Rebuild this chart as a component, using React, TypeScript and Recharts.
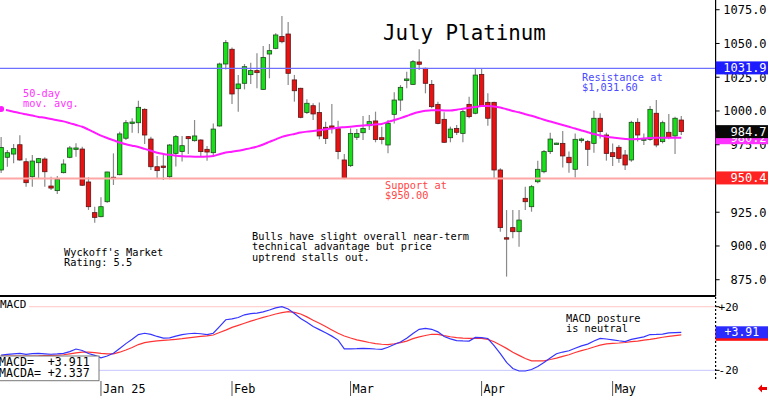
import React from 'react';
import { ComposedChart, Bar, Line, XAxis, YAxis, ReferenceLine } from 'recharts';

// ---------- data ----------
const opens = [956.3,965.7,968.1,975.0,962.4,951.3,961.7,964.4,944.4,941.0,
954.3,965.7,971.6,971.8,947.4,924.7,921.7,932.8,950.9,952.8,
979.8,991.3,991.3,1001.2,979.2,958.7,959.2,951.3,968.6,970.0,
981.0,978.0,978.5,971.6,969.1,988.9,1034.8,1045.7,1016.5,1020.5,
1026.9,1029.9,1016.0,1042.2,1046.4,1055.1,1057.0,1023.0,1016.8,998.8,
1003.9,998.8,987.9,988.9,986.9,963.7,959.5,980.5,983.9,989.1,
992.6,980.2,974.8,997.5,1008.1,1022.5,1019.7,1036.3,1031.6,1019.7,
1004.9,993.8,980.2,987.1,983.4,1004.9,998.3,1027.1,1006.4,1006.4,
956.3,906.1,913.6,910.6,935.3,929.1,947.6,955.0,969.9,975.8,
976.0,965.7,956.8,978.7,977.3,976.0,994.6,982.2,969.1,973.1,
967.4,963.7,991.6,978.8,979.0,998.3,977.3,984.2,981.5,993.3];
const highs = [980.7,971.1,975.5,982.0,964.9,967.4,965.2,965.7,951.3,951.8,
964.2,974.1,976.1,973.5,950.9,929.1,936.1,955.0,968.6,984.7,
993.3,994.6,1007.6,1002.0,980.9,966.6,968.1,975.5,982.2,981.5,
981.5,993.3,979.0,974.1,990.8,1035.8,1052.6,1047.1,1026.7,1034.8,
1035.8,1042.7,1048.1,1049.6,1057.5,1070.4,1065.9,1026.7,1017.2,1008.6,
1005.7,1006.2,992.1,1005.2,992.8,968.1,987.1,986.6,996.3,997.0,
999.5,988.4,993.3,1013.8,1019.2,1029.1,1037.8,1045.7,1032.1,1023.0,
1006.9,999.0,988.4,989.6,1000.7,1010.6,1031.1,1031.1,1013.1,1006.9,
957.5,926.6,926.6,926.6,943.9,945.2,963.2,971.1,983.9,976.5,
985.2,969.9,983.4,980.2,978.5,1000.2,998.3,983.9,976.0,974.8,
971.1,992.8,994.6,983.4,1003.7,1008.1,992.8,997.8,995.8,996.3];
const lows = [954.0,958.7,961.2,963.2,943.9,943.9,950.1,943.9,941.5,938.5,
953.8,964.9,966.1,944.4,926.7,917.2,921.2,932.1,945.2,952.4,
978.5,983.9,983.5,975.5,956.3,950.1,948.9,949.4,958.8,962.5,
968.1,977.3,966.2,963.2,966.2,988.4,1030.8,1005.2,999.5,1016.0,
1020.0,1016.8,1015.5,1024.2,1045.7,1050.1,1019.2,1006.9,994.6,997.8,
993.3,979.0,975.5,983.4,964.2,949.4,958.5,978.5,978.5,985.9,
976.8,975.3,968.6,990.8,1000.0,1016.8,1019.2,1030.4,1013.1,1002.0,
990.1,976.3,976.8,982.2,976.8,994.6,997.5,1003.2,989.1,949.6,
910.6,877.3,905.7,899.5,926.6,925.4,946.4,953.8,968.1,975.5,
958.2,954.3,950.8,976.5,959.2,969.1,979.7,963.2,959.2,961.7,
956.3,962.4,977.3,974.8,978.0,973.1,976.0,979.0,968.1,982.2];
const closes = [973.0,969.1,972.1,963.7,946.9,962.9,964.7,955.0,942.9,949.4,
960.7,972.6,972.6,945.0,929.1,921.2,929.1,954.8,949.9,983.0,
991.3,991.8,1002.7,982.2,958.7,955.8,958.5,974.8,981.0,974.3,
979.5,981.5,969.9,969.6,986.6,1034.8,1050.6,1012.6,1020.0,1032.8,
1029.9,1028.4,1039.7,1044.7,1056.3,1051.3,1027.9,1015.0,995.3,1005.7,
997.8,981.5,979.7,987.4,969.9,950.1,983.4,983.4,987.1,992.1,
978.8,978.8,990.8,1008.1,1017.5,1023.7,1036.5,1034.6,1020.5,1003.2,
990.8,976.8,986.6,984.2,999.5,995.8,1026.6,1003.9,994.6,956.3,
913.6,905.7,910.6,919.2,932.8,943.9,956.8,969.9,979.2,976.2,
966.7,961.7,979.0,979.2,971.6,994.6,984.7,968.6,966.2,964.9,
960.0,991.6,982.2,979.3,1001.2,974.8,991.3,980.5,994.6,984.7];
const ma50 = [1001.4,1000.5,999.5,998.4,997.5,996.6,995.6,995.0,994.0,993.2,
992.3,991.0,989.6,988.3,986.2,984.0,981.8,980.0,978.3,976.6,
975.3,974.3,973.3,971.9,970.5,969.1,968.2,967.5,966.9,966.5,
966.3,966.1,966.1,966.3,966.7,968.0,969.2,969.8,970.5,971.5,
972.5,973.6,975.2,977.1,979.0,980.8,982.0,983.0,984.0,984.7,
985.2,985.7,986.4,987.0,987.6,988.0,988.4,988.8,989.2,989.6,
990.0,990.4,991.8,993.3,994.7,996.3,998.0,999.2,1000.1,1000.6,
1000.6,1000.4,1000.3,1000.9,1001.6,1002.3,1003.0,1003.6,1003.7,1003.4,
1002.6,1001.3,1000.0,999.0,997.6,996.5,995.0,993.5,992.2,990.9,
989.6,988.3,987.0,985.6,984.3,982.9,981.8,981.0,980.3,979.8,
979.3,979.0,979.2,979.6,979.9,980.1,980.2,980.2,980.2,980.2];
const macdLine = [-10.4,-10.0,-9.6,-9.3,-9.9,-9.5,-9.3,-9.6,-9.9,-9.7,
-9.3,-8.2,-6.6,-7.5,-9.4,-10.6,-12.1,-11.0,-9.3,-6.3,
-3.2,-0.5,2.5,3.3,2.6,1.3,0.3,0.4,1.5,2.5,
3.0,3.3,3.0,2.5,3.3,7.5,11.8,12.3,13.2,14.9,
15.6,16.0,16.8,17.9,19.3,20.0,18.6,15.7,12.6,10.2,
7.6,5.6,3.6,1.5,-1.0,-6.5,-6.5,-6.4,-6.2,-6.3,
-6.6,-6.8,-5.5,-3.8,-2.2,0.2,3.2,5.8,6.4,5.8,
4.2,1.3,-0.2,-1.3,-1.5,-1.6,0.7,0.6,0.0,-4.5,
-9.5,-15.0,-18.8,-20.4,-20.4,-19.5,-17.6,-15.0,-12.2,-9.6,
-8.5,-7.7,-6.1,-4.6,-3.5,-1.6,0.1,-0.3,-0.8,-1.4,
-1.9,-0.5,0.3,1.0,2.5,2.6,2.8,3.5,3.7,3.9];
const macdAvg = [-11.0,-11.0,-11.0,-11.0,-11.0,-11.0,-10.9,-10.7,-10.6,-10.5,
-10.2,-9.6,-9.0,-8.6,-8.6,-8.9,-9.3,-9.6,-9.6,-8.6,
-7.2,-5.6,-3.8,-2.6,-1.9,-1.5,-1.2,-0.9,-0.5,-0.1,
0.4,0.9,1.3,1.7,2.2,3.8,5.3,7.0,8.3,9.6,
10.9,12.1,13.3,14.3,15.4,16.3,16.9,16.4,15.4,13.6,
11.5,9.6,7.6,5.4,3.3,1.6,0.3,-0.8,-1.6,-2.5,
-3.2,-3.6,-3.8,-3.3,-2.6,-1.6,-0.1,1.0,1.9,2.7,
2.6,1.8,1.1,0.6,0.2,0.1,0.1,0.1,-0.5,-2.0,
-4.1,-6.2,-8.6,-10.6,-12.6,-14.0,-14.1,-14.0,-13.2,-12.3,
-11.2,-10.2,-8.8,-7.6,-6.6,-5.3,-4.2,-3.4,-3.0,-2.8,
-2.5,-2.0,-1.6,-1.0,-0.5,0.1,0.8,1.3,1.8,2.3];

const monthTickIdx = [16, 37, 56, 77, 98];
const monthLabels = ['Jan 25', 'Feb', 'Mar', 'Apr', 'May'];
const priceTicks = [875, 900, 925, 950, 975, 1000, 1025, 1050, 1075];
const macdTicks = [-20, 20];
const resistance = 1031.6;
const support = 950;
// value tags on the right axis: value, text, colour (drawn in this order)
const priceTagValues = [1031.9, 950.4, 980.2, 984.7];
const priceTagTexts = ['1031.9', '950.4', '980.2', '984.7'];
const priceTagColors = ['#1c1cff', '#ff2222', '#ff33ff', '#080808'];
const macdTagValues = [2.337, 3.91];
const macdTagTexts = ['', '+3.91'];
const macdTagColors = ['#ff1010', '#2a2aff'];
const macdReadout = ['MACD=  +3.911', 'MACDA= +2.337'];
const TOTAL_SLOTS = 115;

const mainData = Array.from({ length: TOTAL_SLOTS }, (_, i) =>
  i < opens.length
    ? { i, range: [lows[i], highs[i]], o: opens[i], h: highs[i], l: lows[i], c: closes[i], ma: ma50[i] }
    : { i }
);
const macdData = macdLine.map((m, i) => ({ i, m, a: macdAvg[i] }));

const MONO = '"DejaVu Sans Mono", "Liberation Mono", monospace';

// ---------- shapes ----------
const Candle = (props: any) => {
  const { x, y, width, height, payload } = props;
  if (!payload || payload.o == null || x == null) return null;
  const top = Math.min(y, y + height);
  const bot = Math.max(y, y + height);
  const span = payload.h - payload.l;
  const k = span > 0 ? (bot - top) / span : 0;
  const yOf = (p: number) => top + (payload.h - p) * k;
  const cx = x + width / 2;
  const up = payload.c >= payload.o;
  const bTop = yOf(Math.max(payload.o, payload.c));
  const bBot = yOf(Math.min(payload.o, payload.c));
  const bh = Math.max(bBot - bTop, 1.4);
  return (
    <g>
      <line x1={cx} x2={cx} y1={top} y2={bot} stroke="#8a8a8a" strokeWidth={1.2} />
      <rect x={cx - 2.2} y={bTop} width={4.4} height={bh}
        fill={up ? '#18e018' : '#e81212'} stroke={up ? '#1d4a1d' : '#5a1616'} strokeWidth={0.8} />
    </g>
  );
};

const PriceTick = (props: any) => {
  const { x, y, payload } = props;
  const v = payload.value;
  const t = priceTagValues.indexOf(v);
  if (t >= 0) {
    return (
      <g>
        <rect x={x} y={y - 6.5} width={56} height={13} fill={priceTagColors[t]} />
        <text x={x + 51} y={y} dy={4.3} textAnchor="end" fill="#fff"
          style={{ fontFamily: MONO, fontSize: 12 }}>{priceTagTexts[t]}</text>
      </g>
    );
  }
  return (
    <g>
      <line x1={x} x2={x + 4} y1={y} y2={y} stroke="#000" />
      <text x={x + 51} y={y} dy={4.3} textAnchor="end" fill="#000"
        style={{ fontFamily: MONO, fontSize: 12 }}>{v.toFixed(1)}</text>
    </g>
  );
};

const MacdTick = (props: any) => {
  const { x, y, payload } = props;
  const v = payload.value;
  const t = macdTagValues.indexOf(v);
  if (t >= 0) {
    return (
      <g>
        <rect x={x} y={y - 6} width={56} height={12} fill={macdTagColors[t]} />
        {macdTagTexts[t] ? (
          <text x={x + 9} y={y} dy={4} fill="#fff" style={{ fontFamily: MONO, fontSize: 11.5 }}>{macdTagTexts[t]}</text>
        ) : null}
      </g>
    );
  }
  return (
    <g>
      <line x1={x} x2={x + 4} y1={y} y2={y} stroke="#000" />
      <text x={x + 3} y={y} dy={3.8} textAnchor="start" fill="#000"
        style={{ fontFamily: MONO, fontSize: 11 }}>{(v > 0 ? '+' : '') + v}</text>
    </g>
  );
};

const DateTick = (props: any) => {
  const { x, y, payload } = props;
  const idx = monthTickIdx.indexOf(payload.value);
  if (idx < 0) return null;
  return (
    <g>
      <line x1={x} x2={x} y1={y} y2={y + 15} stroke="#555" strokeWidth={1} />
      <text x={x + 2} y={y + 12} fill="#000" style={{ fontFamily: MONO, fontSize: 11.8 }}>{monthLabels[idx]}</text>
    </g>
  );
};

// ---------- app ----------
export default function App() {
  return (
    <div style={{ position: 'absolute', left: 0, top: 0, width: 768, height: 396, overflow: 'hidden', background: '#fff' }}>
      <div style={{ position: 'absolute', left: -2, top: 0 }}>
        <ComposedChart width={770} height={298} data={mainData} margin={{ top: 0, right: 0, left: 0, bottom: 0 }}>
          <XAxis dataKey="i" type="category" height={2} tick={false} tickLine={false}
            axisLine={{ stroke: '#000', strokeWidth: 2 }} />
          <YAxis orientation="right" width={52.4} domain={[862.95, 1082.2]} ticks={[...priceTicks, ...priceTagValues]}
            type="number" allowDataOverflow tick={<PriceTick />} tickLine={false} tickSize={0} tickMargin={0}
            axisLine={{ stroke: '#000', strokeWidth: 1.2 }} interval={0} />
          <ReferenceLine y={resistance} stroke="#6f6fff" strokeWidth={1.3} />
          <ReferenceLine y={support} stroke="#ffa6a6" strokeWidth={2} />
          <Line dataKey="ma" stroke="#ff1aff" strokeWidth={2} dot={false} type="monotone" isAnimationActive={false} />
          <Bar dataKey="range" shape={Candle} isAnimationActive={false} />
        </ComposedChart>
      </div>
      <div style={{ position: 'absolute', left: -2, top: 297 }}>
        <ComposedChart width={770} height={99} data={macdData} margin={{ top: 0, right: 0, left: 0, bottom: 0 }}>
          <XAxis dataKey="i" type="number" domain={[-0.5, 114.5]} ticks={monthTickIdx} interval={0}
            allowDataOverflow height={15} tick={<DateTick />} tickLine={false} tickSize={0} tickMargin={0} axisLine={false} />
          <YAxis orientation="right" width={52.4} domain={[-26.7, 26.1]} ticks={[...macdTicks, ...macdTagValues]} type="number"
            allowDataOverflow tick={<MacdTick />} tickLine={false} tickSize={0} tickMargin={0} interval={0}
            axisLine={{ stroke: '#000', strokeWidth: 1.2, strokeDasharray: '2 2' }} />
          <ReferenceLine y={20} stroke="#ffc6c6" strokeWidth={1} />
          <ReferenceLine y={-20} stroke="#c6c6ff" strokeWidth={1} />
          <Line dataKey="a" stroke="#ff3535" strokeWidth={1.2} dot={false} type="linear" isAnimationActive={false} />
          <Line dataKey="m" stroke="#3535ff" strokeWidth={1.2} dot={false} type="linear" isAnimationActive={false} />
        </ComposedChart>
      </div>
      <svg width={768} height={396} style={{ position: 'absolute', left: 0, top: 0, pointerEvents: 'none' }}>
        <g style={{ fontFamily: MONO }}>
          <text x={383} y={39.5} fontSize={20.8} fill="#000">July Platinum</text>
          <text x={23} y={96.5} fontSize={10.3} fill="#ff33ff">50-day</text>
          <text x={23} y={107} fontSize={10.3} fill="#ff33ff">mov. avg.</text>
          <text x={582} y={80.7} fontSize={10.3} fill="#4a4aff">Resistance at</text>
          <text x={582} y={91} fontSize={10.3} fill="#4a4aff">$1,031.60</text>
          <text x={385} y={188.7} fontSize={10.3} fill="#ff4646">Support at</text>
          <text x={385} y={198.8} fontSize={10.3} fill="#ff4646">$950.00</text>
          <text x={64} y={255.6} fontSize={10.3} fill="#000">Wyckoff's Market</text>
          <text x={64} y={265.8} fontSize={10.3} fill="#000">Rating: 5.5</text>
          <text x={252} y={240} fontSize={10.3} fill="#000">Bulls have slight overall near-term</text>
          <text x={252} y={250.3} fontSize={10.3} fill="#000">technical advantage but price</text>
          <text x={252} y={260.6} fontSize={10.3} fill="#000">uptrend stalls out.</text>
          <text x={566} y={321.5} fontSize={10.3} fill="#000">MACD posture</text>
          <text x={566} y={331.7} fontSize={10.3} fill="#000">is neutral</text>
          <rect x={0} y={299} width={29} height={12} fill="#fff" />
          <text x={0} y={308.3} fontSize={11} fill="#000">MACD</text>
          <rect x={-1} y={356} width={100} height={24.7} fill="#fff" stroke="#777" strokeWidth={1} />
          <text x={-1} y={366} fontSize={11.6} fill="#000" style={{ whiteSpace: 'pre' }}>{macdReadout[0]}</text>
          <text x={-1} y={377.3} fontSize={11.6} fill="#000" style={{ whiteSpace: 'pre' }}>{macdReadout[1]}</text>
          <polygon points="758,388.5 762,384.5 762,387 767,387 767,390 762,390 762,392.5" fill="#ee0000" />
        </g>
      </svg>
    </div>
  );
}
